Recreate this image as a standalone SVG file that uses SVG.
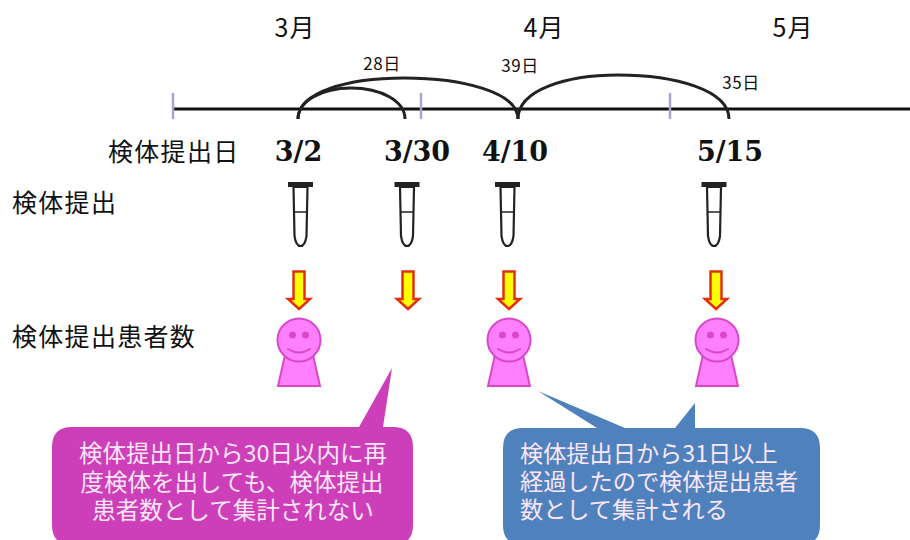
<svg xmlns="http://www.w3.org/2000/svg" width="910" height="540" viewBox="0 0 910 540">
<style>
.jp{font-family:"Noto Sans CJK JP","Noto Sans",sans-serif;fill:#111}
.m{font-size:25px;text-anchor:middle;letter-spacing:1px}
.d{font-size:17px;text-anchor:middle;letter-spacing:.5px}
.l{font-size:25px;letter-spacing:1.3px}
.date{font-family:"DejaVu Serif",serif;font-weight:bold;font-size:27px;text-anchor:middle;fill:#111}
.b{font-family:"Noto Sans CJK JP","Noto Sans",sans-serif;fill:#fbe6fb}
.arc{fill:none;stroke:#222;stroke-width:3}
.tick{stroke:#b0a0cc;stroke-width:2.5}
.tube{fill:#fff;stroke:#222;stroke-width:2.2}
.arr{fill:#ffff00;stroke:#e03010;stroke-width:2.5}
.p{fill:#ff80ff;stroke:#d848c8;stroke-width:2}
.pf{fill:none;stroke:#d848c8;stroke-width:2;stroke-linecap:round}
.pe{fill:#d848c8}
</style>
<defs>
<g id="tube"><path class="tube" d="M-7 -11H7L6 38C5 45 3 48 0 48C-3 48 -5 45 -6 38Z"/><path d="M-7 14H7" stroke="#222" stroke-width="1.5"/><rect x="-12.5" y="-16" width="25" height="5" fill="#222"/></g>
<g id="arrow"><path class="arr" d="M-5.5 1.5H5.5V29H11L0 39L-11 29H-5.5Z"/></g>
<g id="person"><path class="p" d="M-14 34L-21 65H21L14 34Z"/><circle class="p" cx="0" cy="19" r="21.5"/><circle class="pe" cx="-6.5" cy="14" r="3.5"/><circle class="pe" cx="6.5" cy="14" r="3.5"/><path class="pf" d="M-11 28Q0 35 11 28"/></g>
</defs>
<g id="timeline"><path d="M173 109H910" stroke="#111" stroke-width="3.2"/><path class="tick" d="M173 93V119M421 93V119M670 93V119"/></g>
<g id="connectors"><path class="arc" d="M298 119C298 101 322 88 351 88C381 88 405 101 405 119"/><path class="arc" d="M298 119C298 92 348 78 404 78C462 78 518 92 518 119"/><path class="arc" d="M518 119C518 90 566 75 618 75C675 75 729 90 729 119"/></g>
<g id="months"><text class="jp m" x="295" y="37">3月</text><text class="jp m" x="544" y="37">4月</text><text class="jp m" x="793" y="37">5月</text></g>
<g id="spans"><text class="jp d" x="382" y="70">28日</text><text class="jp d" x="520" y="72">39日</text><text class="jp d" x="741" y="89">35日</text></g>
<g id="dates"><text class="jp l" x="108" y="161">検体提出日</text><text class="date" x="298.500" y="161">3/2</text><text class="date" x="417" y="161">3/30</text><text class="date" x="515" y="161">4/10</text><text class="date" x="730" y="161">5/15</text></g>
<g id="row-labels"><text class="jp l" x="12" y="212">検体提出</text><text class="jp l" x="12" y="346">検体提出患者数</text></g>
<g id="node-3-2"><use href="#tube" x="300.500" y="198"/><use href="#arrow" x="299" y="270"/><use href="#person" x="299" y="321"/></g>
<g id="node-3-30"><use href="#tube" x="407" y="198"/><use href="#arrow" x="408" y="270"/></g>
<g id="node-4-10"><use href="#tube" x="507.500" y="198"/><use href="#arrow" x="509" y="270"/><use href="#person" x="509" y="321"/></g>
<g id="node-5-15"><use href="#tube" x="714" y="198"/><use href="#arrow" x="716" y="270"/><use href="#person" x="717" y="321"/></g>
<g id="callout-pink"><path fill="#cc3fb8" d="M72 427H359L392 368L383 427H393Q413 427 413 447V525Q413 545 393 545H72Q52 545 52 525V447Q52 427 72 427Z"/><text class="b" font-size="23.500" text-anchor="middle"><tspan x="233" y="462">検体提出日から30日以内に再</tspan><tspan x="232" y="491">度検体を出しても、検体提出</tspan><tspan x="233" y="519">患者数として集計されない</tspan></text></g>
<g id="callout-blue"><path fill="#4f81bd" d="M523 428H597L538 391L625 428H675L695 403V428H800Q820 428 820 448V525Q820 545 800 545H523Q503 545 503 525V448Q503 428 523 428Z"/><text class="b" font-size="23.200"><tspan x="520" y="462">検体提出日から31日以上</tspan><tspan x="520" y="490">経過したので検体提出患者</tspan><tspan x="520" y="518">数として集計される</tspan></text></g>
</svg>
